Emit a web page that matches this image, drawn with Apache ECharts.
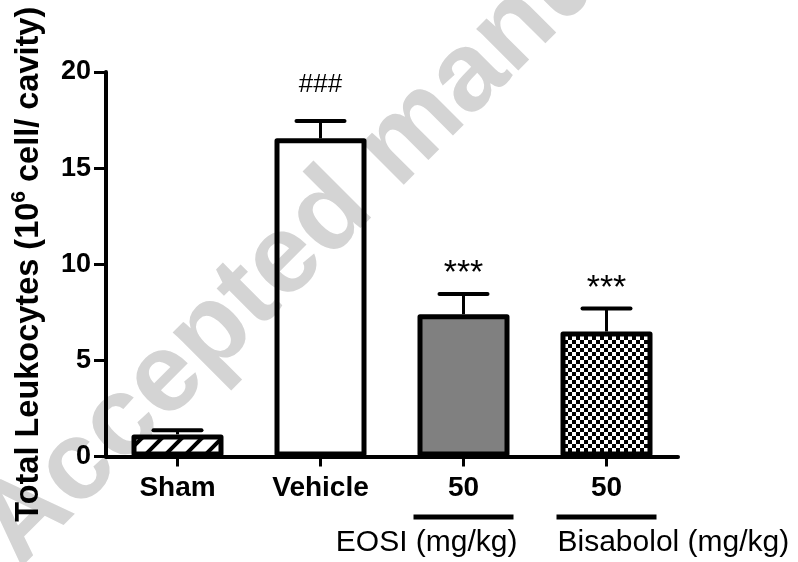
<!DOCTYPE html>
<html>
<head>
<meta charset="utf-8">
<script src="https://cdn.jsdelivr.net/npm/echarts@6/dist/echarts.min.js"></script>
<style>
  html, body { margin: 0; padding: 0; background: #fff; }
  #chart { width: 798px; height: 562px; }
</style>
</head>
<body>
<div id="chart"></div>
<script>
// Total leukocyte counts per group (mean and SEM, 10^6 cells per cavity)
const categories = ['Sham', 'Vehicle', '50', '50'];
const meanValues = [1.15, 16.55, 7.4, 6.5];
const semValues = [0.22, 0.9, 1.05, 1.2];
const significance = ['', '###', '***', '***'];
const yTicks = [0, 5, 10, 15, 20];
const doseGroups = ['EOSI (mg/kg)', 'Bisabolol (mg/kg)'];
const doseGroupIndex = [2, 3];

const FONT = "Arial, 'Liberation Sans', Helvetica, sans-serif";

// fill patterns for the bars
function hatchPattern() {
  const c = document.createElement('canvas');
  c.width = c.height = 20;
  const g = c.getContext('2d');
  g.fillStyle = '#fff';
  g.fillRect(0, 0, 20, 20);
  g.strokeStyle = '#000';
  g.lineWidth = 4;
  g.beginPath();
  g.moveTo(-5, 25); g.lineTo(25, -5);
  g.moveTo(-5, 5); g.lineTo(5, -5);
  g.moveTo(15, 25); g.lineTo(25, 15);
  g.stroke();
  return c;
}
function checkerPattern() {
  const c = document.createElement('canvas');
  c.width = c.height = 8;
  const g = c.getContext('2d');
  g.fillStyle = '#fff';
  g.fillRect(0, 0, 8, 8);
  g.fillStyle = '#000';
  g.fillRect(0, 0, 4, 4);
  g.fillRect(4, 4, 4, 4);
  return c;
}
const fills = [
  { image: hatchPattern(), repeat: 'repeat' },
  'rgba(255,255,255,0)',
  '#808080',
  { image: checkerPattern(), repeat: 'repeat' }
];
const markStyle = {
  '###': { font: '26px ' + FONT, gap: 36 },
  '***': { font: '34px ' + FONT, gap: 20 }
};

const chart = echarts.init(document.getElementById('chart'), null, { renderer: 'canvas' });

chart.setOption({
  animation: false,
  backgroundColor: '#fff',
  grid: { left: 106, right: 120, top: 72, bottom: 105.5, containLabel: false, outerBoundsMode: 'none' },
  xAxis: {
    type: 'category',
    data: categories,
    axisLine: { lineStyle: { color: '#000', width: 4 } },
    axisTick: { show: true, alignWithLabel: true, length: 10, lineStyle: { color: '#000', width: 3 } },
    axisLabel: { color: '#000', fontSize: 28, fontWeight: 'bold', fontFamily: FONT, margin: 18, interval: 0 },
    splitLine: { show: false }
  },
  yAxis: {
    type: 'value',
    min: yTicks[0],
    max: yTicks[yTicks.length - 1],
    interval: yTicks[1] - yTicks[0],
    axisLine: { show: true, lineStyle: { color: '#000', width: 4 } },
    axisTick: { show: true, length: 12, lineStyle: { color: '#000', width: 3 } },
    axisLabel: { color: '#000', fontSize: 27, fontWeight: 'bold', fontFamily: FONT, margin: 15 },
    splitLine: { show: false },
    name: '{a|Total Leukocytes (10}{b|6}{a| cell/ cavity)}',
    nameLocation: 'middle',
    nameRotate: 90,
    nameGap: 57,
    nameTextStyle: {
      rich: {
        a: { fontSize: 32.5, fontWeight: 'bold', fontFamily: FONT, color: '#000', lineHeight: 40 },
        b: { fontSize: 21, fontWeight: 'bold', fontFamily: FONT, color: '#000', lineHeight: 20, verticalAlign: 'top' }
      }
    }
  },
  series: [
    {
      type: 'bar',
      silent: true,
      barWidth: 92,
      z: 3,
      data: meanValues.map((v, i) => ({ value: v, itemStyle: { color: fills[i] } })),
      itemStyle: { borderColor: '#000', borderWidth: 5, borderJoin: 'round' }
    },
    {
      type: 'custom',
      silent: true,
      z: 5,
      encode: { x: 0, y: 1 },
      data: meanValues.map((v, i) => [i, v, semValues[i]]),
      renderItem: function (params, api) {
        const i = api.value(0), m = api.value(1), s = api.value(2);
        const base = api.coord([i, m]);
        const top = api.coord([i, m + s]);
        const capHalf = 24;
        const children = [
          { type: 'line', shape: { x1: base[0], y1: base[1], x2: top[0], y2: top[1] },
            style: { stroke: '#000', lineWidth: 3 } },
          { type: 'line', shape: { x1: top[0] - capHalf, y1: top[1], x2: top[0] + capHalf, y2: top[1] },
            style: { stroke: '#000', lineWidth: 4, lineCap: 'round' } }
        ];
        const mark = significance[params.dataIndex];
        if (mark) {
          const st = markStyle[mark];
          children.push({
            type: 'text', x: top[0], y: top[1] - st.gap,
            style: { text: mark, font: st.font, fill: '#000', align: 'center', verticalAlign: 'middle' }
          });
        }
        return { type: 'group', children: children };
      }
    }
  ]
});

// dose group bars and captions under the x axis, plus the background stamp
const graphics = [{
  type: 'text', x: -2, y: 547, rotation: Math.PI / 4, z: -10, silent: true,
  style: { text: 'Accepted manuscript', font: 'bold 112px ' + FONT, fill: '#d4d4d4', align: 'left', verticalAlign: 'middle' }
}];
doseGroupIndex.forEach((idx, k) => {
  const cx = chart.convertToPixel({ xAxisIndex: 0 }, idx);
  const half = 50;
  graphics.push({
    type: 'line', silent: true, z: 100,
    shape: { x1: cx - half, y1: 517, x2: cx + half, y2: 517 },
    style: { stroke: '#000', lineWidth: 5 }
  });
  graphics.push({
    type: 'text', silent: true, z: 100,
    x: k === 0 ? cx + half + 4 : cx - half + 1, y: 543,
    style: { text: doseGroups[k], font: '30px ' + FONT, fill: '#000',
             align: k === 0 ? 'right' : 'left', verticalAlign: 'middle' }
  });
});
chart.setOption({ graphic: graphics });
</script>
</body>
</html>
